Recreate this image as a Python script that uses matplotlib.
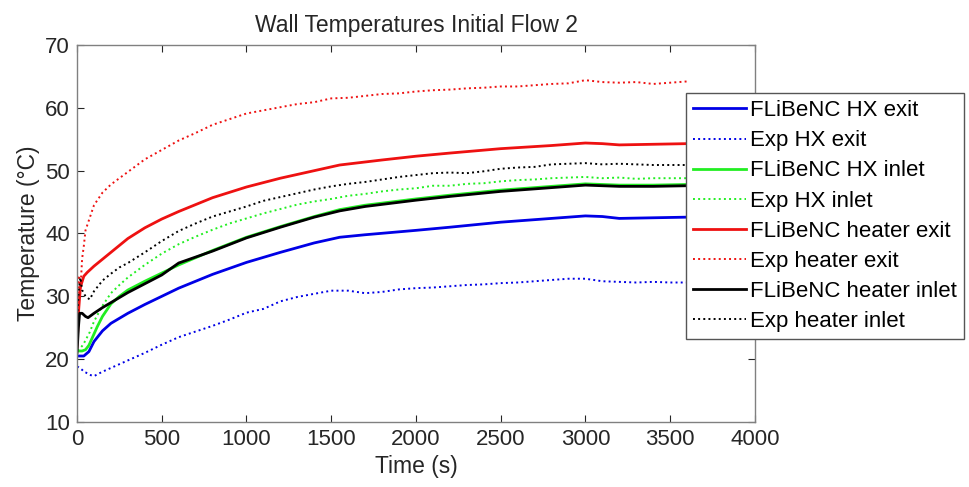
import matplotlib
matplotlib.use("Agg")
import matplotlib.pyplot as plt

plt.rcParams["font.family"] = ["Liberation Sans", "DejaVu Sans"]

# ── experimental data (dotted) ───────────────────────────────────────────────
T_EXP = [0, 10, 20, 30, 40, 50, 75, 100, 150, 200, 250, 300, 400, 500, 600,
         700, 800, 900, 1000, 1100, 1200, 1300, 1400, 1500, 1600, 1700, 1800,
         1900, 2000, 2100, 2200, 2300, 2400, 2500, 2600, 2700, 2800, 2900,
         3000, 3100, 3200, 3300, 3400, 3500, 3600]

exp_hx_exit = [18.8, 18.7, 18.5, 18.3, 18.0, 17.9, 17.5, 17.3, 18.0, 18.6,
               19.2, 19.8, 21.0, 22.3, 23.5, 24.4, 25.3, 26.3, 27.4, 28.0,
               29.2, 29.9, 30.4, 30.9, 30.9, 30.5, 30.7, 31.1, 31.3, 31.4,
               31.6, 31.8, 31.9, 32.1, 32.2, 32.4, 32.6, 32.8, 32.8, 32.4,
               32.3, 32.2, 32.3, 32.2, 32.2]
exp_hx_inlet = [21.5, 21.6, 21.8, 22.1, 22.5, 23.0, 24.3, 26.0, 28.5, 30.5,
                31.8, 33.0, 35.0, 36.8, 38.3, 39.5, 40.6, 41.6, 42.4, 43.2,
                43.9, 44.6, 45.1, 45.5, 46.0, 46.3, 46.7, 47.0, 47.2, 47.6,
                47.6, 47.9, 48.0, 48.3, 48.5, 48.6, 48.8, 48.9, 49.0, 48.8,
                48.9, 48.7, 48.8, 48.8, 48.8]
exp_heater_exit = [28.0, 33.0, 31.0, 36.0, 38.0, 40.5, 42.5, 44.5, 46.5, 47.8,
                   48.8, 49.8, 51.8, 53.3, 54.8, 56.0, 57.3, 58.2, 59.1, 59.6,
                   60.1, 60.6, 60.9, 61.5, 61.6, 61.9, 62.2, 62.3, 62.6, 62.8,
                   62.9, 63.1, 63.2, 63.4, 63.4, 63.6, 63.8, 63.9, 64.4, 64.1,
                   64.0, 64.1, 63.8, 64.0, 64.2]
exp_heater_inlet = [26.0, 31.0, 33.0, 31.0, 30.5, 30.0, 29.5, 30.8, 32.5, 33.6,
                    34.6, 35.3, 37.0, 38.8, 40.4, 41.6, 42.7, 43.5, 44.3, 45.2,
                    45.8, 46.4, 47.0, 47.5, 47.9, 48.2, 48.6, 49.0, 49.3, 49.6,
                    49.7, 49.6, 49.9, 50.3, 50.5, 50.6, 51.0, 51.1, 51.2, 51.0,
                    51.1, 51.0, 50.9, 50.9, 50.9]

# ── FLiBeNC model (solid) ────────────────────────────────────────────────────
t_hx_exit = [0, 40, 70, 100, 150, 200, 300, 400, 500, 600, 800, 1000, 1200,
             1400, 1550, 1700, 2000, 2200, 2500, 2800, 3000, 3100, 3200, 3400, 3600]
mod_hx_exit = [20.5, 20.5, 21.2, 22.8, 24.5, 25.7, 27.3, 28.7, 30.0, 31.3,
               33.5, 35.4, 37.0, 38.5, 39.4, 39.8, 40.5, 41.0, 41.8, 42.4,
               42.8, 42.7, 42.4, 42.5, 42.6]

t_hx_inlet = [0, 30, 50, 70, 100, 120, 150, 200, 250, 300, 400, 500, 600, 800,
              1000, 1200, 1400, 1550, 1700, 2000, 2200, 2500, 2800, 3000, 3100,
              3200, 3400, 3600]
mod_hx_inlet = [21.3, 21.3, 21.5, 22.2, 24.0, 25.2, 26.8, 28.8, 30.0, 31.0,
                32.4, 33.7, 35.0, 37.3, 39.4, 41.1, 42.7, 43.8, 44.5, 45.5,
                46.1, 46.9, 47.5, 47.9, 47.8, 47.7, 47.7, 47.8]

t_heater_exit = [0, 10, 20, 40, 60, 100, 200, 300, 400, 500, 600, 800, 1000,
                 1200, 1400, 1550, 1800, 2000, 2200, 2500, 2800, 3000, 3100,
                 3200, 3400, 3600]
mod_heater_exit = [22.0, 28.0, 31.5, 33.2, 33.8, 34.8, 37.0, 39.2, 40.9, 42.3,
                   43.5, 45.7, 47.4, 48.8, 50.0, 50.9, 51.7, 52.3, 52.8, 53.5,
                   54.0, 54.4, 54.3, 54.1, 54.2, 54.3]

t_heater_inlet = [0, 8, 15, 30, 50, 65, 100, 150, 200, 300, 400, 500, 600, 800,
                  1000, 1200, 1400, 1550, 1700, 2000, 2200, 2500, 2800, 3000,
                  3100, 3200, 3400, 3600]
mod_heater_inlet = [21.0, 25.0, 27.3, 27.3, 26.8, 26.6, 27.3, 28.2, 29.0, 30.6,
                    32.0, 33.4, 35.3, 37.2, 39.3, 41.0, 42.6, 43.6, 44.3, 45.3,
                    45.9, 46.7, 47.3, 47.7, 47.6, 47.5, 47.5, 47.6]

BLUE, GREEN, RED, BLACK = "#0000e6", "#22ee22", "#ee1111", "#000000"

# ── plot ─────────────────────────────────────────────────────────────────────
fig = plt.figure(figsize=(9.69, 4.87), dpi=100)
ax = fig.add_axes([0.0795, 0.1335, 0.6995, 0.7741])

ax.plot(t_hx_exit, mod_hx_exit, color=BLUE, lw=2, label="FLiBeNC HX exit")
ax.plot(T_EXP, exp_hx_exit, color=BLUE, lw=1.4, ls=":", label="Exp HX exit")
ax.plot(t_hx_inlet, mod_hx_inlet, color=GREEN, lw=2, label="FLiBeNC HX inlet")
ax.plot(T_EXP, exp_hx_inlet, color=GREEN, lw=1.4, ls=":", label="Exp HX inlet")
ax.plot(t_heater_exit, mod_heater_exit, color=RED, lw=2,
        label="FLiBeNC heater exit")
ax.plot(T_EXP, exp_heater_exit, color=RED, lw=1.4, ls=":",
        label="Exp heater exit")
ax.plot(t_heater_inlet, mod_heater_inlet, color=BLACK, lw=2,
        label="FLiBeNC heater inlet")
ax.plot(T_EXP, exp_heater_inlet, color=BLACK, lw=1.4, ls=":",
        label="Exp heater inlet")

ax.set_xlim(0, 4000)
ax.set_ylim(10, 70)
ax.set_xticks(range(0, 4001, 500))
ax.set_yticks(range(10, 71, 10))
ax.tick_params(direction="in", top=True, right=True, labelsize=16,
               colors="#262626", length=5, pad=5)
for s in ax.spines.values():
    s.set_color("#808080")
    s.set_linewidth(1.0)

ax.set_xlabel("Time (s)", fontsize=16.5, color="#262626", labelpad=4)
ax.set_ylabel("Temperature (°C)", fontsize=16.5, color="#262626", labelpad=4)
ax.set_title("Wall Temperatures Initial Flow 2", fontsize=16.5,
             color="#262626", pad=9)

leg = ax.legend(loc="upper left", bbox_to_anchor=(0.898, 0.873),
                borderaxespad=0, fontsize=16, handlelength=2.4,
                handletextpad=0.15, labelspacing=0.41, fancybox=False,
                edgecolor="#555555", framealpha=1, borderpad=0.33)
leg.get_frame().set_linewidth(1.0)

plt.savefig("out.png", dpi=100, facecolor="white")
